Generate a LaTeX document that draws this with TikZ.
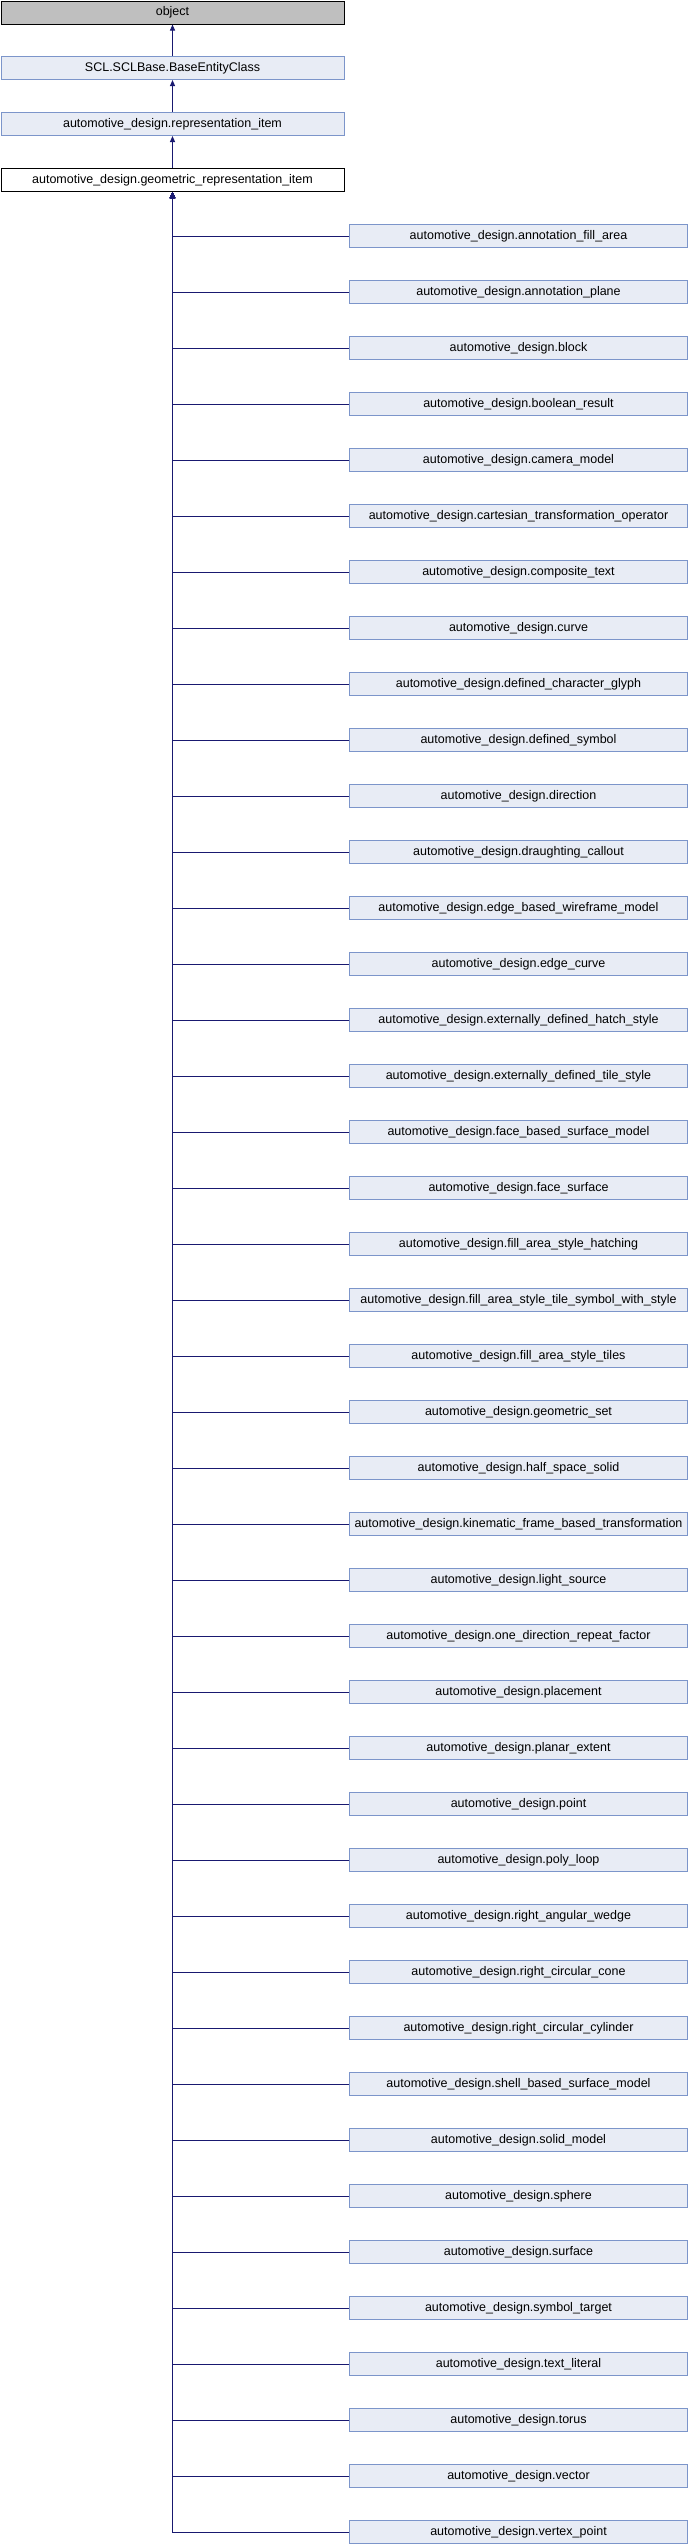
\documentclass[tikz,border=0pt]{standalone}
\usepackage{fontspec}
\setmainfont{Liberation Sans}
\usetikzlibrary{arrows.meta}
\definecolor{edgeblue}{HTML}{191970}
\definecolor{boxfill}{HTML}{E8ECF5}
\definecolor{boxline}{HTML}{7C95CA}
\definecolor{objfill}{HTML}{BFBFBF}
\tikzset{
  cls/.style={draw=boxline, fill=boxfill, line width=1pt, inner sep=0pt, anchor=north west,
    minimum height=23pt, font=\fontsize{12.5}{14}\selectfont},
  topcls/.style={cls, minimum width=343pt},
  child/.style={cls, minimum width=338pt},
  edge/.style={draw=edgeblue, line width=1pt, -{Triangle[width=5pt,length=6pt]}},
}
\begin{document}
\begin{tikzpicture}[x=1pt,y=-1pt]
\useasboundingbox (0,0) rectangle (688,2544);
\node[topcls, draw=black, fill=objfill] (obj) at (0.5,0.5) {object};
\node[topcls] (scl) at (0.5,56) {SCL.SCLBase.BaseEntityClass};
\node[topcls] (rep) at (0.5,112) {automotive\_design.representation\_item};
\node[topcls, draw=black, fill=white] (geo) at (0.5,168) {automotive\_design.geometric\_representation\_item};
\draw[edge] (scl.north) -- (obj.south);
\draw[edge] (rep.north) -- (scl.south);
\draw[edge] (geo.north) -- (rep.south);
\foreach \n [count=\i from 0] in {
annotation\_fill\_area, annotation\_plane, block, boolean\_result, camera\_model,
cartesian\_transformation\_operator, composite\_text, curve, defined\_character\_glyph,
defined\_symbol, direction, draughting\_callout, edge\_based\_wireframe\_model, edge\_curve,
externally\_defined\_hatch\_style, externally\_defined\_tile\_style, face\_based\_surface\_model,
face\_surface, fill\_area\_style\_hatching, fill\_area\_style\_tile\_symbol\_with\_style,
fill\_area\_style\_tiles, geometric\_set, half\_space\_solid, kinematic\_frame\_based\_transformation,
light\_source, one\_direction\_repeat\_factor, placement, planar\_extent, point, poly\_loop,
right\_angular\_wedge, right\_circular\_cone, right\_circular\_cylinder, shell\_based\_surface\_model,
solid\_model, sphere, surface, symbol\_target, text\_literal, torus, vector, vertex\_point}{
  \node[child] (c\i) at (349,224+56*\i) {automotive\_design.\n};
  \draw[edge] (c\i.west) -| (geo.south);
}
\end{tikzpicture}
\end{document}
